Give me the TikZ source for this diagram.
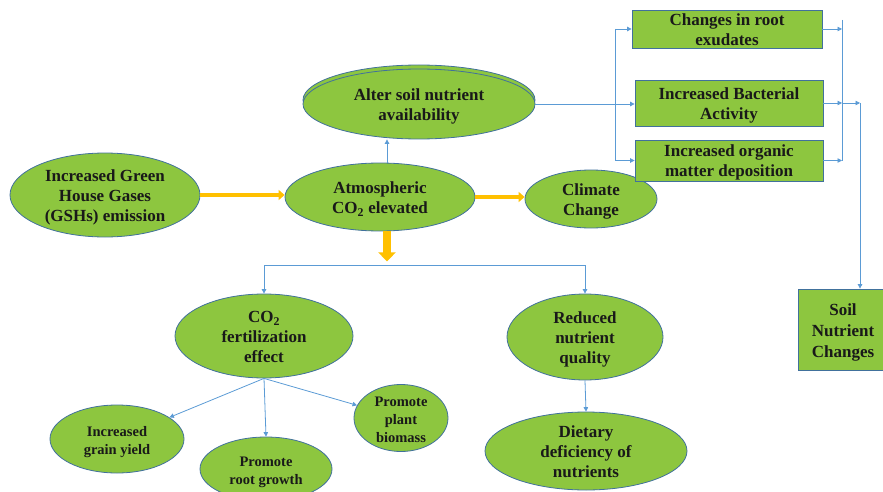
\documentclass[tikz,border=0pt]{standalone}
\usepackage{fontspec}
\setmainfont{Liberation Serif}
\usetikzlibrary{arrows.meta,shapes.geometric}
\definecolor{gfill}{RGB}{141,198,63}
\definecolor{gline}{RGB}{65,113,156}
\definecolor{cblue}{RGB}{91,155,213}
\definecolor{corange}{RGB}{255,192,0}
\newcommand{\zt}[1]{\makebox[0pt]{\raisebox{\dimexpr-0.25em-2.5pt\relax}[0pt][0pt]{\begin{tabular}{@{}c@{}}#1\end{tabular}}}}
\newcommand{\cotwo}{CO\textsubscript{2}}
\tikzset{
 ell/.style={ellipse, draw=gline, line width=0.8pt, fill=gfill, inner sep=0pt, text=black!90,
   font=\bfseries\fontsize{17}{20}\selectfont},
 ells/.style={ell, font=\bfseries\fontsize{14.5}{18}\selectfont},
 gbox/.style={rectangle, draw=gline, line width=0.8pt, fill=gfill, inner sep=0pt, text=black!90,
   font=\bfseries\fontsize{17}{20}\selectfont},
 bl/.style={draw=cblue, line width=0.8pt},
 bla/.style={bl, -{Triangle[length=4.5pt,width=4.5pt]}},
 org/.style={draw=corange, line width=4pt, -{Triangle[length=6pt,width=10pt]}},
 orgd/.style={draw=corange, line width=8pt, -{Triangle[length=9pt,width=17pt]}},
}
\begin{document}
\begin{tikzpicture}[x=1pt,y=-1pt]
\useasboundingbox (0,0) rectangle (883,492);
% ellipses
\node[ell, minimum width=190pt, minimum height=84pt] (ghg) at (105,195) {\zt{Increased Green\\House Gases\\(GSHs) emission}};
\node[ell, minimum width=190pt, minimum height=68pt] (atm) at (380,197) {\zt{Atmospheric\\\cotwo{} elevated}};
\node[ell, minimum width=132pt, minimum height=58pt] (clim) at (591,199) {\zt{Climate\\Change}};
\node[ell, minimum width=232pt, minimum height=70pt] (alterbk) at (419,100) {};
\node[ell, minimum width=232pt, minimum height=70pt] (alter) at (419,104) {\zt{Alter soil nutrient\\availability}};
\node[ell, minimum width=178pt, minimum height=84pt] (fert) at (264,336) {\zt{\cotwo\\fertilization\\effect}};
\node[ells, minimum width=134pt, minimum height=68pt] (grain) at (117,439) {\zt{Increased\\grain yield}};
\node[ells, minimum width=132pt, minimum height=64pt] (root) at (266,469) {\zt{Promote\\root growth}};
\node[ells, minimum width=94pt, minimum height=67pt] (bio) at (401,418) {\zt{Promote\\plant\\biomass}};
\node[ell, minimum width=156pt, minimum height=86pt] (red) at (585,337) {\zt{Reduced\\nutrient\\quality}};
\node[ell, minimum width=202pt, minimum height=78pt] (diet) at (586,451) {\zt{Dietary\\deficiency of\\nutrients}};
% boxes
\node[gbox, minimum width=190pt, minimum height=38pt] (b1) at (727,29) {\zt{Changes in root\\exudates}};
\node[gbox, minimum width=188pt, minimum height=46pt] (b2) at (729,103) {\zt{Increased Bacterial\\Activity}};
\node[gbox, minimum width=188pt, minimum height=41pt] (b3) at (729,160.5) {\zt{Increased organic\\matter deposition}};
\node[gbox, minimum width=90pt, minimum height=81pt, font=\bfseries\fontsize{17}{21}\selectfont] (soil) at (843,329.5) {\zt{Soil\\Nutrient\\Changes}};
% orange arrows
\draw[org] (ghg.east) -- (ghg.east -| atm.west);
\draw[org] (atm.east) -- (atm.east -| clim.west);
\draw[orgd] ([xshift=7pt]atm.south) -- ++(0,30);
% blue connectors
\draw[bla] ([xshift=7pt]atm.north) -- ([xshift=7pt]atm.north |- alter.south);
\coordinate (sp) at (615,104);
\draw[bl] (alter.east) -- (sp);
\draw[bl] (sp |- b1.west) -- (sp |- b3.west);
\draw[bla] (sp |- b1.west) -- (b1.west);
\draw[bla] (sp) -- (sp -| b2.west);
\draw[bla] (sp |- b3.west) -- (b3.west);
\coordinate (mtop) at (842,20);
\coordinate (mbot) at (842,161);
\draw[bl] (mtop) -- (mbot);
\draw[bla] (b1.east) -- (b1.east -| mtop);
\draw[bla] (b2.east) -- (b2.east -| mtop);
\draw[bla] (b3.east) -- (b3.east -| mtop);
\coordinate (jr) at (860,103);
\draw[bla] (mtop |- jr) -- (jr);
\draw[bla] (jr) -- (jr |- soil.north);
\coordinate (hb) at (387,265);
\draw[bla] (hb) -| (fert.north);
\draw[bla] (hb) -| (red.north);
\draw[bla] (fert.south) -- (grain);
\draw[bla] (fert.south) -- (root.north);
\draw[bla] (fert.south) -- (bio);
\draw[bla] (red.south) -- (diet.north);
\end{tikzpicture}
\end{document}
